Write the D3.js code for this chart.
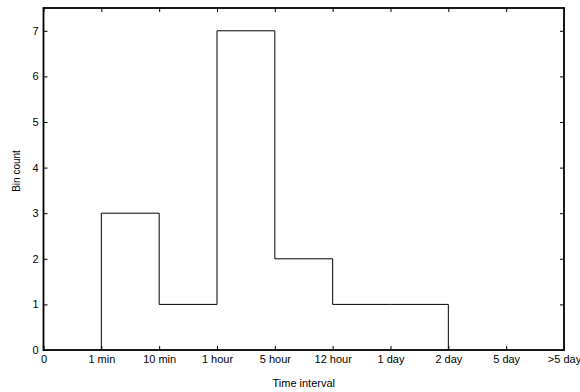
<!DOCTYPE html>
<html>
<head>
<meta charset="utf-8">
<script src="https://cdn.jsdelivr.net/npm/d3@7"></script>
<style>
  body { margin: 0; background: #fff; }
  svg text { font-family: "Liberation Sans", Arial, sans-serif; fill: #000; }
</style>
</head>
<body>
<svg width="580" height="392"></svg>
<script>
'use strict';

var categories = ['0', '1 min', '10 min', '1 hour', '5 hour', '12 hour', '1 day', '2 day', '5 day', '>5 day'];
// count in each bin, the bin starting at the named edge and ending at the next one
var binStarts = ['1 min', '10 min', '1 hour', '5 hour', '12 hour', '1 day'];
var binCounts = [3, 1, 7, 2, 1, 1];
var binEnd = '2 day';
var yTicks = [0, 1, 2, 3, 4, 5, 6, 7];

(() => {
  var svg = d3.select('svg');
  var W = +svg.attr('width'), H = +svg.attr('height');
  var m = {top: 8, right: 16, bottom: 42, left: 43.5};
  var w = W - m.left - m.right, h = H - m.top - m.bottom;

  var x = d3.scalePoint().domain(categories).range([0, w]);
  var y = d3.scaleLinear().domain([0, 7.5]).range([h, 0]);

  var g = svg.append('g').attr('transform', `translate(${m.left},${m.top})`);

  // step outline: up from zero at the first edge, across each bin, down to zero at the end
  var pts = [[binStarts[0], 0]];
  binStarts.forEach((c, i) => pts.push([c, binCounts[i]]));
  pts.push([binEnd, 0]);
  var line = d3.line()
    .x(d => x(d[0]))
    .y(d => y(d[1]))
    .curve(d3.curveStepAfter);
  g.append('path')
    .attr('d', line(pts))
    .attr('fill', 'none')
    .attr('stroke', '#000')
    .attr('stroke-width', 1);

  var style = sel => {
    sel.select('.domain').remove();
    sel.selectAll('line').attr('stroke', '#000').attr('stroke-width', 1);
    sel.selectAll('text').style('font-size', '11px');
  };

  g.append('g').attr('transform', `translate(0,${h})`)
    .call(d3.axisBottom(x).tickSizeInner(-4).tickSizeOuter(0).tickPadding(5))
    .call(style);
  g.append('g')
    .call(d3.axisTop(x).tickSizeInner(-4).tickSizeOuter(0).tickFormat(''))
    .call(style);
  g.append('g')
    .call(d3.axisLeft(y).tickValues(yTicks).tickSizeInner(-4).tickSizeOuter(0).tickPadding(5).tickFormat(d3.format('d')))
    .call(style);
  g.append('g').attr('transform', `translate(${w},0)`)
    .call(d3.axisRight(y).tickValues(yTicks).tickSizeInner(-4).tickSizeOuter(0).tickFormat(''))
    .call(style);

  // frame
  g.append('rect')
    .attr('width', w).attr('height', h)
    .attr('fill', 'none')
    .attr('stroke', '#000')
    .attr('stroke-width', 1.8);

  svg.append('text')
    .attr('x', m.left + w / 2).attr('y', H - 5.5)
    .attr('text-anchor', 'middle')
    .style('font-size', '11px')
    .text('Time interval');

  svg.append('text')
    .attr('transform', `translate(20,${m.top + h / 2 - 8}) rotate(-90)`)
    .attr('text-anchor', 'middle')
    .style('font-size', '10px')
    .text('Bin count');
})();
</script>
</body>
</html>
